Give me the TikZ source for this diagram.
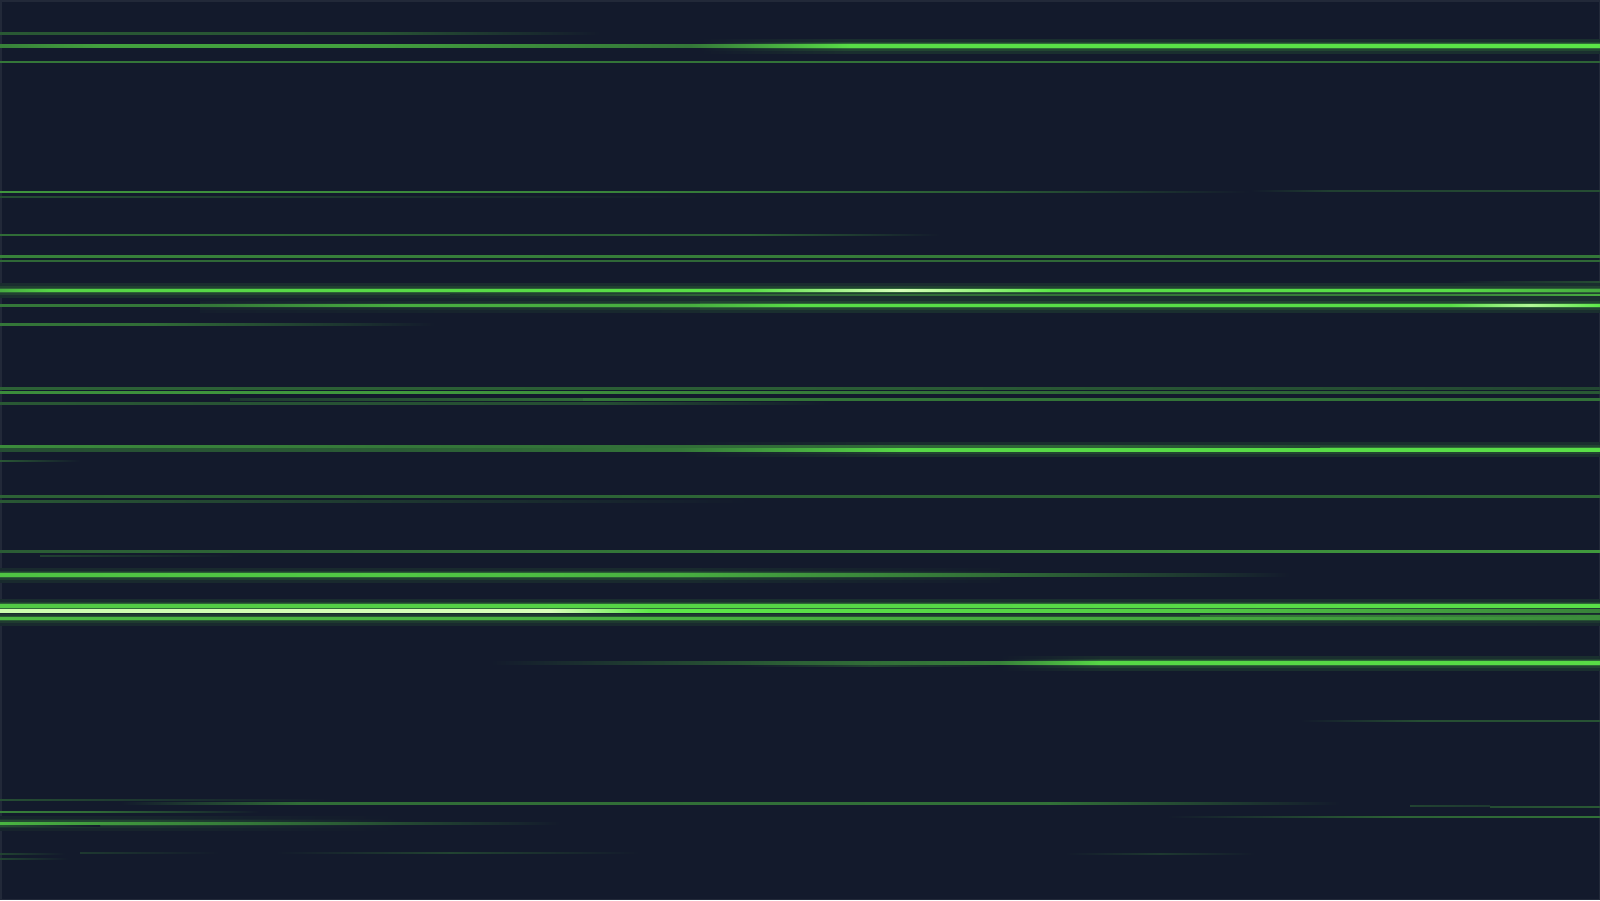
\documentclass[tikz,border=0pt]{standalone}
\definecolor{bgc}{RGB}{19,26,44}
\definecolor{edgec}{RGB}{34,41,57}
\definecolor{lgr}{RGB}{92,232,72}
\definecolor{lwh}{RGB}{215,255,185}
% horizontal segment: y, x1, x2, width, left %, right %
\newcommand\hseg[6]{\shade[left color=lgr!#5!bgc,right color=lgr!#6!bgc] (#2,#1-#4/2) rectangle (#3,#1+#4/2);}
% horizontal segment with explicit colours
\newcommand\hsegc[6]{\shade[left color=#5,right color=#6] (#2,#1-#4/2) rectangle (#3,#1+#4/2);}
% glow around a bright line: y, x1, x2, left %, right %
\newcommand\hglow[5]{%
\pgfmathtruncatemacro\glA{#4*0.12}\pgfmathtruncatemacro\glB{#5*0.12}%
\pgfmathtruncatemacro\glC{#4*0.24}\pgfmathtruncatemacro\glD{#5*0.24}%
\pgfmathtruncatemacro\glE{#4*0.45}\pgfmathtruncatemacro\glF{#5*0.45}%
\shade[left color=lgr!\glA!bgc,right color=lgr!\glB!bgc] (#2,#1-7) rectangle (#3,#1+7);%
\shade[left color=lgr!\glC!bgc,right color=lgr!\glD!bgc] (#2,#1-4) rectangle (#3,#1+4);%
\shade[left color=lgr!\glE!bgc,right color=lgr!\glF!bgc] (#2,#1-2.4) rectangle (#3,#1+2.4);}
\begin{document}
\begin{tikzpicture}[x=1pt,y=-1pt]
\useasboundingbox (0,0) rectangle (1600,900);
\fill[bgc] (0,0) rectangle (1600,900);
\draw[edgec,line width=1.5pt] (0.75,0.75) rectangle (1599.25,899.25);
% ---------- glows ----------
\hglow{46}{700}{850}{0}{90}
\hglow{46}{850}{1600}{90}{90}
\hglow{290.5}{0}{1600}{80}{80}
\hglow{305.5}{200}{700}{20}{70}
\hglow{305.5}{700}{1600}{85}{85}
\hglow{449.5}{680}{900}{0}{85}
\hglow{449.5}{900}{1600}{90}{90}
\hglow{575}{0}{680}{75}{75}
\hglow{575}{680}{1000}{75}{15}
\hglow{606}{0}{1600}{80}{85}
\hglow{611}{0}{1200}{90}{90}
\hglow{611}{1200}{1600}{90}{40}
\hglow{618.5}{0}{1600}{70}{60}
\hglow{663}{1000}{1100}{0}{80}
\hglow{663}{1100}{1600}{85}{85}
\hglow{823}{0}{150}{50}{45}
\hglow{823}{150}{400}{45}{0}
% ---------- top group ----------
\hseg{33.5}{0}{380}{1.3}{30}{28}
\hseg{33.5}{380}{600}{1.3}{28}{0}
\hseg{46}{0}{100}{2.5}{50}{65}
\hseg{46}{100}{350}{2.5}{65}{65}
\hseg{46}{350}{690}{2.5}{65}{45}
\hseg{46}{690}{850}{2.5}{45}{95}
\hseg{46}{850}{1600}{2.5}{95}{98}
\hseg{62}{0}{1200}{1.8}{45}{42}
\hseg{62}{1200}{1600}{1.8}{42}{35}
\hseg{192}{0}{600}{1.8}{60}{52}
\hseg{192}{600}{1000}{1.8}{52}{30}
\hseg{192}{1000}{1250}{1.8}{30}{0}
\hseg{190.7}{1250}{1330}{1.2}{0}{18}
\hseg{190.7}{1330}{1600}{1.2}{18}{25}
\hseg{197}{0}{715}{1.2}{25}{0}
\hseg{235}{0}{750}{1.5}{40}{35}
\hseg{235}{750}{940}{1.5}{35}{0}
\hseg{256.5}{0}{1600}{1.6}{50}{45}
\hseg{261}{0}{1600}{1.5}{38}{38}
\hseg{282}{1450}{1600}{1.2}{0}{25}
\hseg{290.5}{0}{50}{2.6}{70}{90}
\hseg{290.5}{50}{750}{2.6}{90}{95}
\hsegc{290.5}{750}{900}{2.6}{lgr!95!bgc}{lwh}
\hsegc{290.5}{900}{1050}{2.6}{lwh}{lgr}
\hseg{290.5}{1050}{1450}{2.6}{95}{95}
\hseg{290.5}{1450}{1600}{2.6}{95}{70}
\hseg{295}{450}{700}{1.4}{11}{35}
\hseg{295}{700}{1450}{1.4}{35}{50}
\hseg{295}{1450}{1600}{1.4}{50}{70}
\hseg{305.5}{0}{210}{2.3}{45}{45}
\hseg{305.5}{210}{400}{2.3}{45}{72}
\hseg{305.5}{400}{690}{2.3}{72}{72}
\hseg{305.5}{690}{800}{2.3}{72}{95}
\hseg{305.5}{800}{1450}{2.3}{95}{95}
\hsegc{305.5}{1450}{1530}{2.3}{lgr!95!bgc}{lwh!70!lgr}
\hsegc{305.5}{1530}{1600}{2.3}{lwh!70!lgr}{lgr}
\hseg{324.5}{0}{150}{1.4}{45}{40}
\hseg{324.5}{150}{435}{1.4}{40}{0}
% ---------- middle group ----------
\hseg{388.5}{0}{900}{1.4}{35}{32}
\hseg{388.5}{900}{1600}{1.4}{32}{22}
\hseg{392.3}{0}{400}{1.8}{55}{62}
\hseg{392.3}{400}{1000}{1.8}{62}{40}
\hseg{392.3}{1000}{1600}{1.8}{40}{30}
\hseg{399.3}{230}{583}{1.6}{15}{40}
\hseg{399.3}{583}{1600}{1.6}{45}{42}
\hseg{403.5}{0}{600}{1.3}{30}{25}
\hseg{403.5}{600}{830}{1.3}{25}{0}
\hseg{446.5}{0}{400}{1.8}{55}{45}
\hseg{446.5}{400}{1100}{1.8}{45}{35}
\hseg{446.5}{1100}{1320}{1.8}{35}{22}
\hseg{450}{0}{400}{2.2}{25}{32}
\hseg{450}{400}{680}{2.2}{32}{45}
\hseg{450}{680}{900}{2.2}{45}{92}
\hseg{450}{900}{1600}{2.4}{92}{96}
\hseg{461}{0}{80}{1.2}{30}{0}
\hseg{496.5}{0}{1600}{1.5}{35}{38}
\hseg{501.5}{0}{750}{1.3}{30}{0}
\hseg{551.5}{0}{500}{1.7}{32}{42}
\hseg{551.5}{500}{1600}{1.7}{42}{62}
\hseg{556}{40}{240}{1}{18}{0}
\hseg{575}{0}{400}{2.3}{82}{85}
\hseg{575}{400}{680}{2.3}{85}{72}
\hseg{575}{680}{1000}{2.3}{72}{40}
\hseg{575}{1000}{1290}{2.3}{40}{0}
\hseg{606}{0}{600}{2.4}{85}{90}
\hseg{606}{600}{1600}{2.4}{90}{96}
\hsegc{611}{0}{550}{2.2}{lwh!90!lgr}{lwh}
\hsegc{611}{550}{650}{2.2}{lwh}{lgr}
\hseg{611}{650}{1200}{2.2}{100}{85}
\hseg{611}{1200}{1600}{2.2}{85}{50}
\hseg{616}{1200}{1600}{1.3}{40}{55}
\hseg{618.5}{0}{1200}{2.0}{78}{70}
\hseg{618.5}{1200}{1600}{2.0}{70}{55}
\hseg{663}{490}{800}{2.2}{0}{35}
\hseg{663}{800}{1000}{2.2}{35}{50}
\hseg{663}{1000}{1100}{2.2}{50}{92}
\hseg{663}{1100}{1600}{2.3}{92}{94}
\hseg{665.5}{740}{870}{1}{0}{20}
\hseg{665.5}{870}{1000}{1}{20}{0}
\hseg{721}{1300}{1420}{1.2}{0}{25}
\hseg{721}{1420}{1600}{1.2}{25}{28}
% ---------- bottom group ----------
\hseg{800}{0}{333}{1.2}{25}{0}
\hseg{803.5}{120}{300}{1.6}{0}{40}
\hseg{803.5}{300}{1050}{1.6}{40}{42}
\hseg{803.5}{1050}{1340}{1.6}{42}{0}
\hseg{805.5}{1410}{1490}{1}{20}{15}
\hseg{807}{1490}{1600}{1.2}{25}{30}
\hseg{812}{0}{90}{1.6}{50}{40}
\hseg{812}{90}{260}{1.6}{40}{0}
\hseg{817}{1167}{1400}{1.4}{0}{35}
\hseg{817}{1400}{1600}{1.4}{35}{42}
\hseg{823}{0}{100}{2.0}{75}{62}
\hseg{823}{100}{250}{2.0}{62}{45}
\hseg{823}{250}{560}{2.0}{45}{0}
\hseg{826}{0}{100}{1}{25}{0}
\hseg{852.5}{80}{220}{1}{15}{0}
\hseg{853}{275}{450}{1}{0}{20}
\hseg{853}{450}{640}{1}{20}{0}
\hseg{854}{0}{65}{1}{20}{0}
\hseg{854}{1065}{1160}{1}{0}{15}
\hseg{854}{1160}{1255}{1}{15}{0}
\hseg{859}{0}{68}{1}{20}{0}
\end{tikzpicture}
\end{document}
